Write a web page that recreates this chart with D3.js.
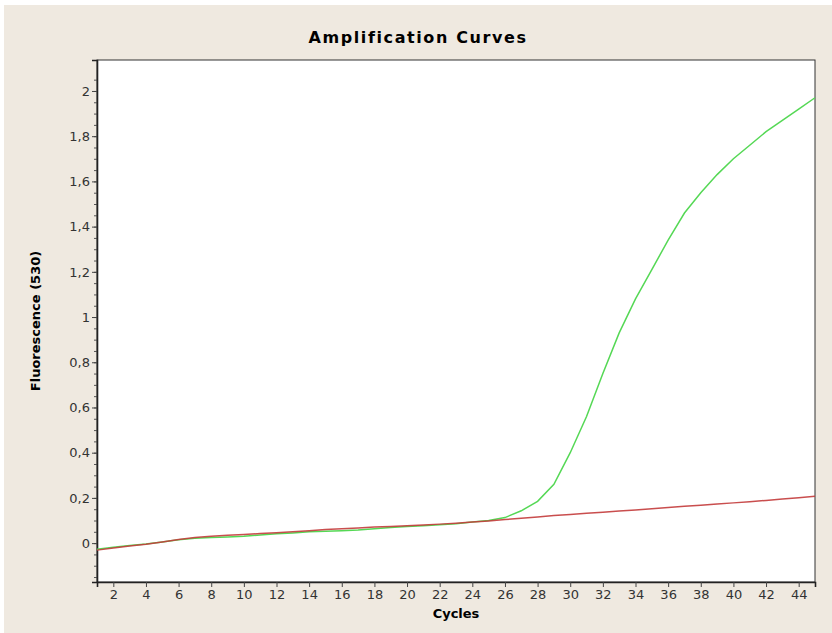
<!DOCTYPE html>
<html>
<head>
<meta charset="utf-8">
<script src="https://cdn.jsdelivr.net/npm/d3@7"></script>
<style>
  body { margin: 0; background: #fff; }
  text { font-family: "DejaVu Sans", sans-serif; }
</style>
</head>
<body>
<div id="chart"></div>
<script>
// data
const cycles = d3.range(1, 46);
const greenValues = [-0.027, -0.018, -0.011, -0.004, 0.005, 0.015, 0.022, 0.025, 0.027, 0.030,
  0.036, 0.041, 0.045, 0.050, 0.053, 0.055, 0.058, 0.064, 0.069, 0.073,
  0.077, 0.081, 0.086, 0.093, 0.100, 0.113, 0.143, 0.185, 0.26, 0.40,
  0.56, 0.75, 0.93, 1.08, 1.21, 1.34, 1.46, 1.55, 1.63, 1.70,
  1.76, 1.82, 1.87, 1.92, 1.97];
const redValues = [-0.031, -0.022, -0.013, -0.005, 0.005, 0.016, 0.025, 0.030, 0.035, 0.038,
  0.042, 0.046, 0.050, 0.055, 0.060, 0.063, 0.067, 0.071, 0.074, 0.077,
  0.080, 0.084, 0.088, 0.093, 0.098, 0.104, 0.110, 0.116, 0.122, 0.127,
  0.132, 0.137, 0.142, 0.147, 0.152, 0.158, 0.163, 0.168, 0.173, 0.178,
  0.183, 0.189, 0.195, 0.201, 0.207];
const xTicks = d3.range(2, 46, 2);
const yTicks = [0, 0.2, 0.4, 0.6, 0.8, 1, 1.2, 1.4, 1.6, 1.8, 2];
const yMinorTicks = d3.range(-0.15, 2.1, 0.05);

const width = 832, height = 633;
const margin = {top: 60, right: 17, bottom: 51, left: 97};

const svg = d3.select("#chart")
  .append("svg")
    .attr("width", width)
    .attr("height", height);

// beige panel
svg.append("rect")
  .attr("x", 4).attr("y", 5)
  .attr("width", width - 4).attr("height", height - 5)
  .attr("fill", "#efe9e0");

const x = d3.scaleLinear()
  .domain([1, 45])
  .range([margin.left, width - margin.right]);
const y = d3.scaleLinear()
  .domain([-0.172, 2.137])
  .range([height - margin.bottom, margin.top]);

const locale = d3.formatLocale({decimal: ",", thousands: ".", grouping: [3], currency: ["", ""]});
const fmt = locale.format("~g");

// plot background
svg.append("rect")
  .attr("x", x(1)).attr("y", y(2.137))
  .attr("width", x(45) - x(1)).attr("height", y(-0.172) - y(2.137))
  .attr("fill", "#fff")
  .attr("stroke", "#333")
  .attr("stroke-width", 1);

// minor y ticks
svg.append("g")
  .attr("transform", `translate(${margin.left},0)`)
  .call(d3.axisLeft(y).tickValues(yMinorTicks).tickSize(3).tickFormat(""))
  .call(g => g.select(".domain").remove())
  .call(g => g.selectAll("line").attr("stroke", "#555"));

// y axis
svg.append("g")
  .attr("transform", `translate(${margin.left},0)`)
  .call(d3.axisLeft(y).tickValues(yTicks).tickSize(5).tickPadding(2).tickFormat(fmt))
  .call(g => g.select(".domain").attr("stroke", "#222").attr("stroke-width", 1.6))
  .call(g => g.selectAll("line").attr("stroke", "#444"))
  .call(g => g.selectAll("text")
    .style("font-family", "DejaVu Sans")
    .style("font-size", "13px")
    .attr("fill", "#333"));

// x axis
svg.append("g")
  .attr("transform", `translate(0,${height - margin.bottom})`)
  .call(d3.axisBottom(x).tickValues(xTicks).tickSize(5).tickPadding(3).tickFormat(d3.format("d")))
  .call(g => g.select(".domain").attr("stroke", "#222").attr("stroke-width", 1.6))
  .call(g => g.selectAll("line").attr("stroke", "#444"))
  .call(g => g.selectAll("text")
    .style("font-family", "DejaVu Sans")
    .style("font-size", "13px")
    .attr("fill", "#333"));

// lines
const line = d3.line()
  .x((d, i) => x(cycles[i]))
  .y(d => y(d));

svg.append("path")
  .datum(greenValues)
  .attr("d", line)
  .attr("fill", "none")
  .attr("stroke", "#55d855")
  .attr("stroke-width", 1.5);

svg.append("path")
  .datum(redValues)
  .attr("d", line)
  .attr("fill", "none")
  .attr("stroke", "#c33b3b")
  .attr("stroke-width", 1.5)
  .attr("stroke-opacity", 0.9);

// title
svg.append("text")
  .attr("x", 418).attr("y", 43)
  .attr("text-anchor", "middle")
  .style("font-family", "DejaVu Sans")
  .style("font-weight", "bold")
  .style("font-size", "16px")
  .style("letter-spacing", "1.6px")
  .text("Amplification Curves");

// axis titles
svg.append("text")
  .attr("x", (x(1) + x(45)) / 2).attr("y", 618)
  .attr("text-anchor", "middle")
  .style("font-weight", "bold")
  .style("font-size", "13px")
  .text("Cycles");

svg.append("text")
  .attr("transform", `translate(40,${(y(-0.172) + y(2.137)) / 2}) rotate(-90)`)
  .attr("text-anchor", "middle")
  .style("font-weight", "bold")
  .style("font-size", "13px")
  .text("Fluorescence (530)");
</script>
</body>
</html>
